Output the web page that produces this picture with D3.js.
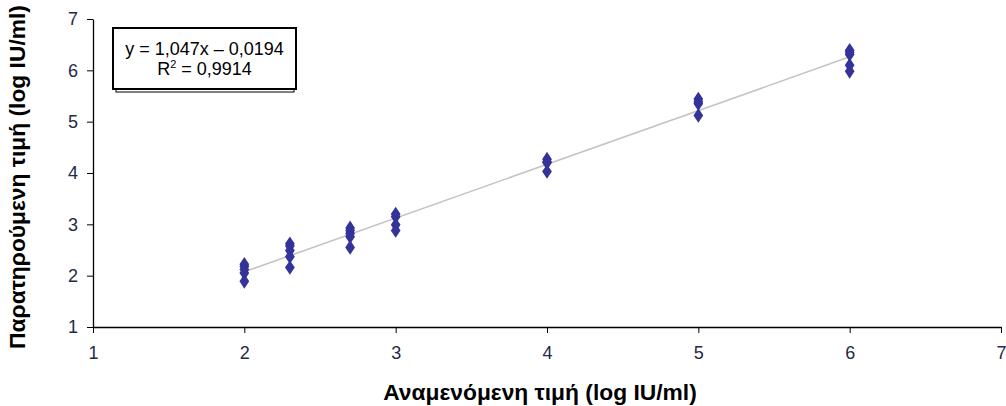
<!DOCTYPE html>
<html>
<head>
<meta charset="utf-8">
<script src="https://cdn.jsdelivr.net/npm/d3@7"></script>
<style>
  body { margin: 0; background: #fff; }
  svg text { font-family: "Liberation Sans", Arial, sans-serif; }
</style>
</head>
<body>
<div id="chart"></div>
<script>
// Données
const expected = [2, 2.301, 2.699, 3, 4, 5, 6];
const observed = [
  [2.22, 2.18, 2.12, 2.05, 1.89],
  [2.62, 2.58, 2.49, 2.37, 2.16],
  [2.93, 2.88, 2.82, 2.76, 2.55],
  [3.20, 3.15, 2.99, 2.88],
  [4.27, 4.22, 4.20, 4.03],
  [5.44, 5.39, 5.35, 5.12],
  [6.39, 6.35, 6.31, 6.10, 5.98]
];
const xTicks = [1, 2, 3, 4, 5, 6, 7];
const yTicks = [1, 2, 3, 4, 5, 6, 7];
const slope = 1.047, intercept = -0.0194;
const eqLines = ["y = 1,047x – 0,0194", "R2 = 0,9914"];

const width = 1006, height = 406;
const svg = d3.select("#chart").append("svg")
  .attr("width", width).attr("height", height);

const x = d3.scaleLinear().domain([1, 7]).range([93, 1001]);
const y = d3.scaleLinear().domain([1, 7]).range([327, 19]);

const points = [];
expected.forEach((ex, i) => observed[i].forEach(v => points.push({ x: ex, y: v })));

// Axe X
const xAxis = svg.append("g")
  .attr("transform", `translate(0,${y(1)})`)
  .call(d3.axisBottom(x).tickValues(xTicks).tickFormat(d3.format("d"))
    .tickSize(6).tickPadding(13).tickSizeOuter(0));
xAxis.select(".domain").attr("stroke", "#000").attr("stroke-width", 1.3);
xAxis.selectAll(".tick line").attr("stroke", "#000");
xAxis.selectAll(".tick text")
  .style("font-family", "'Liberation Sans', Arial, sans-serif")
  .attr("font-size", 18).attr("fill", "#1f2a44");

// Axe Y
const yAxis = svg.append("g")
  .attr("transform", `translate(${x(1)},0)`)
  .call(d3.axisLeft(y).tickValues(yTicks).tickFormat(d3.format("d"))
    .tickSize(6).tickPadding(9).tickSizeOuter(0));
yAxis.select(".domain").attr("stroke", "#000").attr("stroke-width", 1.3);
yAxis.selectAll(".tick line").attr("stroke", "#000");
yAxis.selectAll(".tick text")
  .style("font-family", "'Liberation Sans', Arial, sans-serif")
  .attr("font-size", 18).attr("fill", "#1f2a44");

// Droite de régression
const xMin = d3.min(expected), xMax = d3.max(expected);
svg.append("line")
  .attr("x1", x(xMin)).attr("y1", y(slope * xMin + intercept))
  .attr("x2", x(xMax)).attr("y2", y(slope * xMax + intercept))
  .attr("stroke", "#c4c4c4").attr("stroke-width", 1.6);

// Points
svg.selectAll("path.pt")
  .data(points)
  .enter()
  .append("path")
  .attr("class", "pt")
  .attr("d", d3.symbol().type(d3.symbolDiamond).size(62))
  .attr("transform", d => `translate(${x(d.x)},${y(d.y)}) scale(1.15,1)`)
  .attr("fill", "#333399");

// Boîte de l'équation
const bx = 113, by = 28, bw = 183, bh = 61;
svg.append("rect")
  .attr("x", bx + 3).attr("y", by + 3).attr("width", bw - 5).attr("height", bh)
  .attr("fill", "#fff").attr("stroke", "#000").attr("stroke-width", 1);
svg.append("rect")
  .attr("x", bx).attr("y", by).attr("width", bw).attr("height", bh)
  .attr("fill", "#fff").attr("stroke", "#000").attr("stroke-width", 2);
svg.append("text")
  .attr("x", bx + bw / 2).attr("y", by + 27)
  .attr("text-anchor", "middle").attr("font-size", 18)
  .text(eqLines[0]);
const r2 = svg.append("text")
  .attr("x", bx + bw / 2).attr("y", by + 47)
  .attr("text-anchor", "middle").attr("font-size", 18);
r2.append("tspan").text("R");
r2.append("tspan").attr("font-size", 11).attr("dy", -7).text("2");
r2.append("tspan").attr("dy", 7).text(" = 0,9914");

// Titres des axes
svg.append("text")
  .attr("x", 540).attr("y", 400)
  .attr("text-anchor", "middle")
  .attr("font-size", 22.8).attr("font-weight", "bold")
  .text("Αναμενόμενη τιμή (log IU/ml)");

svg.append("text")
  .attr("transform", "translate(25,177) rotate(-90)")
  .attr("text-anchor", "middle")
  .attr("font-size", 22.8).attr("font-weight", "bold")
  .text("Παρατηρούμενη τιμή (log IU/ml)");
</script>
</body>
</html>
